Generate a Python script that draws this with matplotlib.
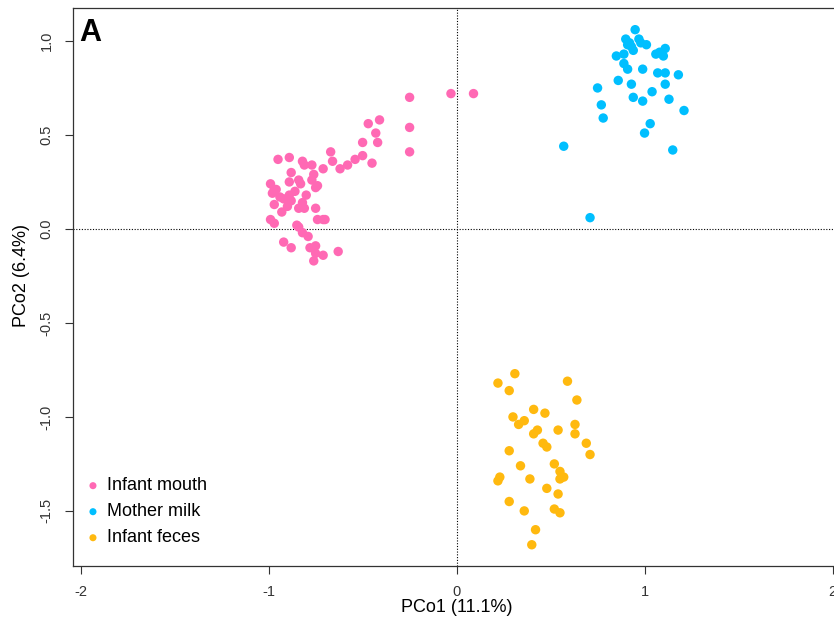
import matplotlib
matplotlib.use("Agg")
import matplotlib.pyplot as plt
import numpy as np

plt.rcParams['font.family'] = ['Liberation Sans', 'DejaVu Sans']

# PCoA scores per sample group (PCo1, PCo2)
mouth_x = [-0.25, -0.03, 0.09, -0.41, -0.47, -0.43, -0.25, -0.50, -0.42,
           -0.67, -0.25, -0.66, -0.50, -0.54, -0.58, -0.45, -0.62, -0.71,
           -0.77, -0.82, -0.95, -0.89, -0.81, -0.76, -0.88, -0.77, -0.89,
           -0.84, -0.83, -0.74, -0.75, -0.99, -0.97, -0.98, -0.86, -0.89,
           -0.92, -0.82, -0.97, -0.90, -0.88, -0.84, -0.81, -0.75, -0.93,
           -0.74, -0.71, -0.70, -0.99, -0.97, -0.85, -0.84, -0.82, -0.79,
           -0.92, -0.88, -0.78, -0.75, -0.75, -0.71, -0.63, -0.76, -0.94,
           -0.96, -0.80]
mouth_y = [0.70, 0.72, 0.72, 0.58, 0.56, 0.51, 0.54, 0.46, 0.46,
           0.41, 0.41, 0.36, 0.39, 0.37, 0.34, 0.35, 0.32, 0.32,
           0.34, 0.36, 0.37, 0.38, 0.34, 0.29, 0.30, 0.26, 0.25,
           0.26, 0.24, 0.23, 0.22, 0.24, 0.21, 0.19, 0.20, 0.18,
           0.16, 0.14, 0.13, 0.12, 0.15, 0.11, 0.11, 0.11, 0.09,
           0.05, 0.05, 0.05, 0.05, 0.03, 0.02, 0.01, -0.02, -0.04,
           -0.07, -0.10, -0.10, -0.09, -0.13, -0.14, -0.12, -0.17, 0.17,
           0.21, 0.18]

milk_x = [0.95, 0.90, 0.92, 0.91, 0.97, 0.98, 1.01, 0.94, 0.85, 0.89,
          1.06, 1.08, 1.11, 1.10, 0.89, 0.91, 0.99, 1.07, 1.11, 1.18,
          0.86, 0.93, 1.11, 0.75, 1.04, 0.94, 0.99, 1.13, 0.77, 1.21,
          0.78, 1.03, 1.00, 0.57, 1.15, 0.71, 0.93]
milk_y = [1.06, 1.01, 0.99, 0.98, 1.01, 0.99, 0.98, 0.95, 0.92, 0.93,
          0.93, 0.94, 0.96, 0.92, 0.88, 0.85, 0.85, 0.83, 0.83, 0.82,
          0.79, 0.77, 0.77, 0.75, 0.73, 0.70, 0.68, 0.69, 0.66, 0.63,
          0.59, 0.56, 0.51, 0.44, 0.42, 0.06, 0.97]

feces_x = [0.31, 0.22, 0.28, 0.59, 0.64, 0.41, 0.47, 0.30, 0.36, 0.33,
           0.63, 0.63, 0.43, 0.41, 0.54, 0.69, 0.71, 0.46, 0.48, 0.28,
           0.34, 0.52, 0.55, 0.23, 0.22, 0.39, 0.55, 0.57, 0.48, 0.54,
           0.28, 0.36, 0.52, 0.55, 0.42, 0.40]
feces_y = [-0.77, -0.82, -0.86, -0.81, -0.91, -0.96, -0.98, -1.00, -1.02, -1.04,
           -1.04, -1.09, -1.07, -1.09, -1.07, -1.14, -1.20, -1.14, -1.16, -1.18,
           -1.26, -1.25, -1.29, -1.32, -1.34, -1.33, -1.33, -1.32, -1.38, -1.41,
           -1.45, -1.50, -1.49, -1.51, -1.60, -1.68]

groups = ["Infant mouth", "Mother milk", "Infant feces"]
colors = ["#FF69B4", "#00BFFF", "#FFB90F"]

fig = plt.figure(figsize=(8.34, 6.27), dpi=100)
ax = fig.add_axes([0.0875, 0.0973, 0.9195, 0.8900])

for xs, ys, lab, col in zip([mouth_x, milk_x, feces_x],
                            [mouth_y, milk_y, feces_y], groups, colors):
    ax.scatter(xs, ys, s=46, color=col, edgecolors='none', label=lab, zorder=3)

# reference lines through the origin
ax.axhline(0, color='black', linestyle=(0, (1, 1.5)), linewidth=0.8, zorder=1)
ax.axvline(0, color='black', linestyle=(0, (1, 1.5)), linewidth=0.8, zorder=1)

ax.set_xlim(-2.041, 2.039)
ax.set_ylim(-1.793, 1.1755)

ax.set_xticks([-2, -1, 0, 1, 2])
ax.set_xticklabels(["-2", "-1", "0", "1", "2"])
ax.set_yticks([-1.5, -1.0, -0.5, 0.0, 0.5, 1.0])
ax.set_yticklabels(["-1.5", "-1.0", "-0.5", "0.0", "0.5", "1.0"],
                   rotation=90, va='center')
ax.tick_params(axis='both', direction='out', length=6, width=0.8,
               labelsize=10.5, colors='#333333', pad=8)
ax.tick_params(axis='y', pad=8)

for sp in ax.spines.values():
    sp.set_color('#333333')
    sp.set_linewidth(0.9)

ax.set_xlabel("PCo1 (11.1%)", fontsize=13, labelpad=0)
ax.set_ylabel("PCo2 (6.4%)", fontsize=13)
ax.yaxis.set_label_coords(-0.056, 0.52)

ax.text(0.008, 0.982, "A", transform=ax.transAxes, fontsize=22,
        fontweight='bold', va='top', ha='left')

ax.legend(loc='lower left', bbox_to_anchor=(0.019, 0.035), frameon=False,
          fontsize=13, markerscale=0.75, handlelength=0.6,
          handletextpad=0.45, labelspacing=0.5, borderpad=0, borderaxespad=0)

fig.savefig("out.png", dpi=100)
